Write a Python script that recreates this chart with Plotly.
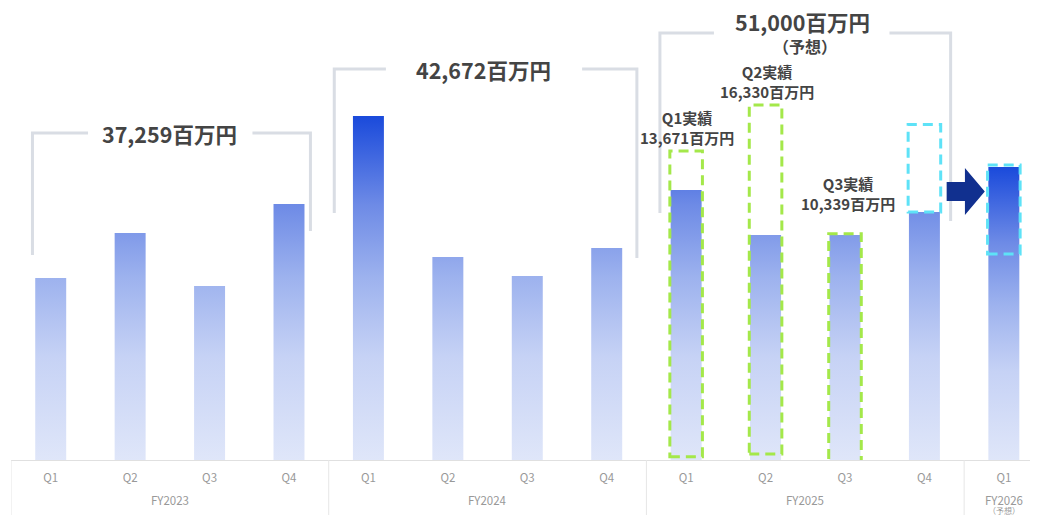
import plotly.graph_objects as go

# ---------------- data ----------------
fiscal_years = ["FY2023", "FY2024", "FY2025", "FY2026"]
quarter_labels = ["Q1", "Q2", "Q3", "Q4", "Q1", "Q2", "Q3", "Q4", "Q1", "Q2", "Q3", "Q4", "Q1"]
bar_fy = ["FY2023"] * 4 + ["FY2024"] * 4 + ["FY2025"] * 4 + ["FY2026"]
# quarterly sales (百万円)
sales = [8190, 10215, 7830, 11520, 15480, 9135, 8280, 9540, 12150, 10125, 10125, 11160, 13185]
annual_totals = ["37,259百万円", "42,672百万円", "51,000百万円"]
# FY2025 actual results (dashed green boxes)
actual_index = [8, 9, 10]
actual_tops = [13900, 15980, 10180]
actual_text = ["Q1実績<br>13,671百万円", "Q2実績<br>16,330百万円", "Q3実績<br>10,339百万円"]
# forecast boxes (dashed cyan)
forecast_index = [11, 12]
forecast_low = [11160, 9270]
forecast_high = [15100, 13275]

# ---------------- style ----------------
W, H = 1030, 507
ML, MB = 3, 55
PLOT_H = H - MB
YMAX = PLOT_H * 45
BAR_HALF = 0.195
BOX_HALF = 0.205
grad = [[0.0, "#dfe6f9"], [0.3, "#c6d2f5"], [0.53, "#9db2ee"], [0.74, "#6e8be6"], [1.0, "#1a4adb"]]
bracket_color = "#d9dde4"
txt_font = "Noto Sans CJK JP"

fig = go.Figure()

# gradient bars (absolute gradient for historical bars)
xs, ys = [], []
for i, v in enumerate(sales[:-1]):
    xs += [i - BAR_HALF, i + BAR_HALF, i + BAR_HALF, i - BAR_HALF, i - BAR_HALF, None]
    ys += [0, 0, v, v, 0, None]
fig.add_trace(go.Scatter(x=xs, y=ys, mode="lines", fill="toself", line=dict(width=0),
                         fillgradient=dict(type="vertical", colorscale=grad, start=0, stop=max(sales)),
                         hoverinfo="skip", showlegend=False))
i = len(sales) - 1
v = sales[-1]
fig.add_trace(go.Scatter(x=[i - BAR_HALF, i + BAR_HALF, i + BAR_HALF, i - BAR_HALF, i - BAR_HALF],
                         y=[0, 0, v, v, 0], mode="lines", fill="toself", line=dict(width=0),
                         fillgradient=dict(type="vertical", colorscale=grad, start=0, stop=v),
                         hoverinfo="skip", showlegend=False))

shapes = []
# dashed green actual boxes
box_bottoms = [150, 270, -250]
for k, idx in enumerate(actual_index):
    shapes.append(dict(type="rect", xref="x", yref="y", x0=idx - BOX_HALF, x1=idx + BOX_HALF,
                       y0=box_bottoms[k], y1=actual_tops[k],
                       line=dict(color="#a4e84a", width=3, dash="10px,6px")))
# dashed cyan forecast boxes
for k, idx in enumerate(forecast_index):
    shapes.append(dict(type="rect", xref="x", yref="y", x0=idx - BOX_HALF, x1=idx + BOX_HALF,
                       y0=forecast_low[k], y1=forecast_high[k],
                       line=dict(color="#5ee2f7", width=3, dash="10px,6px")))

# brackets: (xl, xr, top, left_bottom, right_bottom, gap_l, gap_r)
brackets = [
    (-0.23, 3.27, 14715, 9225, 10305, 0.47, 2.54),
    (3.57, 7.38, 17595, 11115, 9090, 4.22, 6.69),
    (7.67, 11.33, 19215, 11115, 10755, 8.35, 10.56),
]
for (xl, xr, top, lb, rb, gl, gr) in brackets:
    shapes.append(dict(type="path", xref="x", yref="y",
                       path=f"M {xl},{lb} L {xl},{top} L {gl},{top}",
                       line=dict(color=bracket_color, width=3)))
    shapes.append(dict(type="path", xref="x", yref="y",
                       path=f"M {gr},{top} L {xr},{top} L {xr},{rb}",
                       line=dict(color=bracket_color, width=3)))

# arrow
ax0, ax1, ax2 = 11.28, 11.51, 11.76
shapes.append(dict(type="path", xref="x", yref="y",
                   path=(f"M {ax0},12510 L {ax1},12510 L {ax1},13140 L {ax2},12083 "
                         f"L {ax1},11025 L {ax1},11655 L {ax0},11655 Z"),
                   fillcolor="#11308f", line=dict(width=0)))

# x-axis group dividers
for xd in [-0.5, 3.5, 7.5, 11.5]:
    shapes.append(dict(type="line", xref="x", yref="paper", x0=xd, x1=xd, y0=0, y1=-MB / PLOT_H,
                       line=dict(color="#e6e6e6", width=1)))

annotations = []
# totals
total_pos = [(1.5, 14715), (5.45, 17595), (9.46, 19215 + 500)]
for (x, y), t in zip(total_pos, annual_totals):
    annotations.append(dict(x=x, y=y, xref="x", yref="y", text=f"<b>{t}</b>", showarrow=False,
                            font=dict(family=txt_font, size=21.5, color="#444444"),
                            xanchor="center", yanchor="middle"))
annotations.append(dict(x=9.5, y=19215 - 600, xref="x", yref="y", text="<b>（予想）</b>", showarrow=False,
                        font=dict(family=txt_font, size=16, color="#444444"),
                        xanchor="center", yanchor="middle"))
# actual labels
actual_label_pos = [(8.01, 14985), (9.02, 17030), (10.04, 11990)]
for (x, y), t in zip(actual_label_pos, actual_text):
    annotations.append(dict(x=x, y=y, xref="x", yref="y", text=f"<b>{t}</b>", showarrow=False,
                            font=dict(family=txt_font, size=15, color="#444444"),
                            xanchor="center", yanchor="middle"))
# fiscal year labels
fy_centers = [1.5, 5.5, 9.5, 12]
for x, t in zip(fy_centers, fiscal_years):
    annotations.append(dict(x=x, y=-40 / PLOT_H, xref="x", yref="paper", text=t, showarrow=False,
                            font=dict(family=txt_font, size=11.5, color="#999999"),
                            xanchor="center", yanchor="middle"))
annotations.append(dict(x=12, y=-50 / PLOT_H, xref="x", yref="paper", text="（予想）", showarrow=False,
                        font=dict(family=txt_font, size=8, color="#999999"),
                        xanchor="center", yanchor="middle"))

fig.update_layout(
    width=W, height=H,
    margin=dict(l=ML, r=0, t=0, b=MB),
    paper_bgcolor="white", plot_bgcolor="white",
    showlegend=False,
    shapes=shapes, annotations=annotations,
    xaxis=dict(range=[-0.5, 12.43], tickmode="array", tickvals=list(range(len(quarter_labels))),
               ticktext=quarter_labels, showgrid=False, zeroline=False, showline=True,
               linecolor="#e0e0e0", linewidth=1, ticks="", ticklabelstandoff=7,
               tickfont=dict(family=txt_font, size=11.5, color="#999999"), fixedrange=True),
    yaxis=dict(range=[0, YMAX], visible=False, fixedrange=True),
)

fig.write_html("out.html")
